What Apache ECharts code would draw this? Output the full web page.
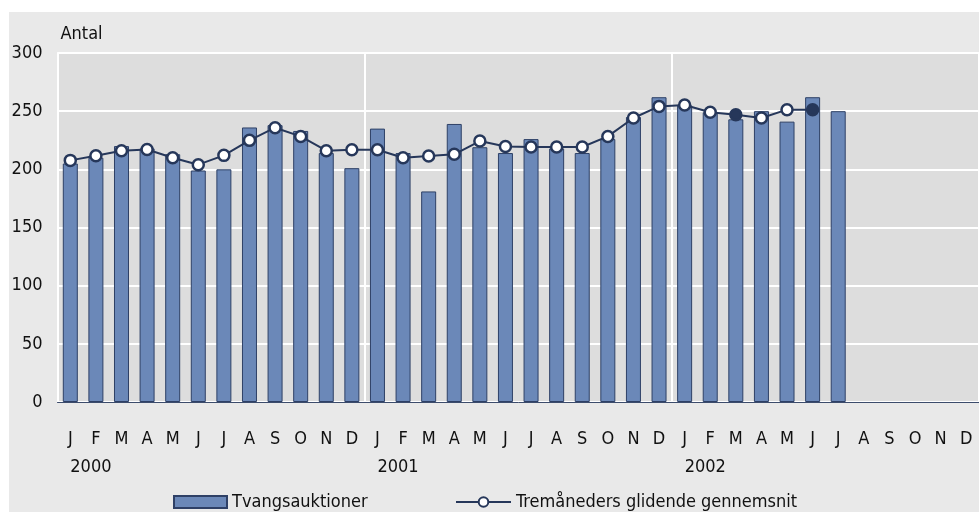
<!DOCTYPE html>
<html>
<head>
<meta charset="utf-8">
<script src="https://cdn.jsdelivr.net/npm/echarts@6/dist/echarts.min.js"></script>
<style>
html,body{margin:0;padding:0;background:#ffffff;}
#chart{width:979px;height:512px;}
</style>
</head>
<body>
<div id="chart"></div>
<script>
// ---- data ----
var monthLabels = ['J','F','M','A','M','J','J','A','S','O','N','D',
                   'J','F','M','A','M','J','J','A','S','O','N','D',
                   'J','F','M','A','M','J','J','A','S','O','N','D'];
var yearLabels = ['2000','','','','','','','','','','','',
                  '2001','','','','','','','','','','','',
                  '2002','','','','','','','','','','',''];
var auctions = [205, 210, 220, 218, 213, 199, 200, 236, 238, 233, 214, 201,
                235, 214, 181, 239, 219, 214, 226, 218, 214, 226, 245, 262,
                255, 249, 243, 250, 241, 262, 250, null, null, null, null, null];
var movingAvg = [207.7, 211.7, 216, 217, 210, 204, 212, 224.9, 235.8, 228.3, 216, 216.9,
                 216.9, 210, 211.4, 212.9, 224.3, 219.7, 219.2, 219.2, 219.2, 228.3, 244.1, 254.1,
                 255.3, 249, 247, 244.1, 251.3, 251.3, null, null, null, null, null, null];
var filledPoints = [26, 29];
var yTicks = { min: 0, max: 300, interval: 50 };
var barName = 'Tvangsauktioner';
var lineName = 'Tremåneders glidende gennemsnit';
var axisName = 'Antal';

var FONT = "'Liberation Sans Narrow', 'DejaVu Sans Condensed', sans-serif";
var DARK = '#26375a';

var lineData = movingAvg.map(function (v, i) {
  if (filledPoints.indexOf(i) >= 0) {
    return { value: v, itemStyle: { color: DARK } };
  }
  return v;
});

var chart = echarts.init(document.getElementById('chart'), null, { renderer: 'canvas' });
chart.setOption({
  backgroundColor: '#ffffff',
  animation: false,
  graphic: [{
    type: 'rect', z: -10, silent: true,
    shape: { x: 9, y: 12, width: 980, height: 510 },
    style: { fill: '#e9e9e9' }
  }],
  grid: {
    left: 57.5, top: 53, width: 925.5, height: 349,
    show: true, backgroundColor: '#dddddd', borderWidth: 0
  },
  legend: [{
    data: [{ name: barName, icon: 'rect' }], left: 173, top: 493, padding: 0,
    itemWidth: 53, itemHeight: 12, itemGap: 0,
    textStyle: { fontFamily: FONT, fontSize: 18, color: '#111' }
  }, {
    data: [lineName], left: 455, top: 493, padding: 0,
    itemWidth: 55, itemHeight: 12, itemGap: 0,
    textStyle: { fontFamily: FONT, fontSize: 18, color: '#111' }
  }],
  xAxis: [{
    type: 'category', data: monthLabels, position: 'bottom',
    axisLine: { show: true, lineStyle: { color: '#3c4c6c', width: 1 } },
    axisTick: { show: false },
    axisLabel: { interval: 0, margin: 28, fontFamily: FONT, fontSize: 18, color: '#111' },
    splitLine: { show: true, interval: function (i) { return i % 12 === 0; },
      lineStyle: { color: '#ffffff', width: 2 } }
  }, {
    type: 'category', data: yearLabels, position: 'bottom',
    axisLine: { show: false }, axisTick: { show: false }, splitLine: { show: false },
    axisLabel: { interval: 0, margin: 56, align: 'left', fontFamily: FONT, fontSize: 18, color: '#111',
      padding: [0, 0, 0, 0] }
  }],
  yAxis: {
    type: 'value', min: yTicks.min, max: yTicks.max, interval: yTicks.interval,
    name: axisName, nameLocation: 'end', nameGap: 10,
    nameTextStyle: { align: 'left', fontFamily: FONT, fontSize: 18, color: '#111', padding: [0, 0, 0, 3] },
    axisLine: { show: true, lineStyle: { color: '#ffffff', width: 2 } },
    axisTick: { show: false },
    axisLabel: { margin: 15, fontFamily: FONT, fontSize: 18, color: '#111' },
    splitLine: { show: true, lineStyle: { color: '#ffffff', width: 2 } }
  },
  series: [{
    name: barName, type: 'bar', data: auctions, barWidth: 15,
    itemStyle: { color: '#6b88b8', borderColor: '#2e4066', borderWidth: 1 }
  }, {
    name: lineName, type: 'line', data: lineData,
    symbol: 'circle', symbolSize: 11, showAllSymbol: true,
    lineStyle: { color: DARK, width: 2 },
    itemStyle: { color: '#ffffff', borderColor: DARK, borderWidth: 2.5 },
    z: 5
  }]
});
</script>
</body>
</html>
